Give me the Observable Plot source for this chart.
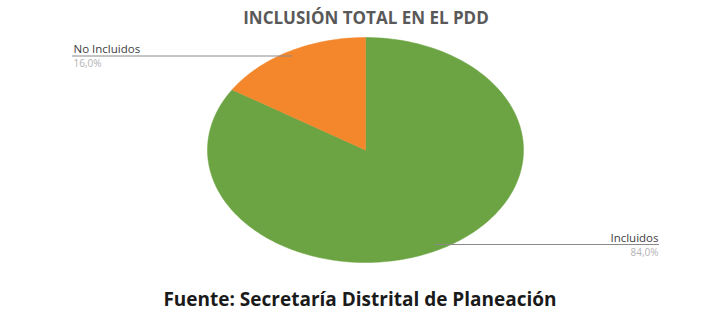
<!DOCTYPE html>
<html>
<head>
<meta charset="utf-8">
<script src="https://cdn.jsdelivr.net/npm/d3@7"></script>
<script src="https://cdn.jsdelivr.net/npm/@observablehq/plot@0.6"></script>
<style>
  html, body { margin: 0; padding: 0; background: #fff; }
  body { width: 714px; height: 317px; overflow: hidden; font-family: "Open Sans", sans-serif; }
  #title { height: 30px; position: relative; }
  #title span { position: absolute; left: 0; width: 732px; text-align: center; top: 6px;
    font: bold 17px "Open Sans", sans-serif; color: #595959; }
  #chart { height: 257px; }
  #chart svg { display: block; }
  #footer { height: 30px; position: relative; }
  #footer span { position: absolute; left: 0; width: 720px; text-align: center; top: -1px;
    font: bold 19px "Open Sans", sans-serif; color: #1a1a1a; }
</style>
</head>
<body>
<div id="title"><span></span></div>
<div id="chart"></div>
<div id="footer"><span></span></div>
<script>
// ---- data ----
const title = "INCLUSIÓN TOTAL EN EL PDD";
const source = "Fuente: Secretaría Distrital de Planeación";
const categories = ["Incluidos", "No Incluidos"];
const shares = [84.0, 16.0];
const valueLabels = ["84,0%", "16,0%"];
const colors = ["#6ca443", "#f4862c"];

document.querySelector("#title span").textContent = title;
document.querySelector("#footer span").textContent = source;

// ---- layout ----
const W = 714, H = 257;
const pieCx = 365, pieRx = 158, pieTop = 7, pieBottom = 232;
const margins = {marginLeft: pieCx - pieRx, marginRight: W - (pieCx + pieRx), marginTop: pieTop, marginBottom: H - pieBottom};
const pieCy = (pieTop + pieBottom) / 2, pieRy = (pieBottom - pieTop) / 2;
const toX = px => (px - pieCx) / pieRx;           // pixel -> data helpers for annotations
const toY = py => (pieCy - py) / pieRy;

// ---- pie geometry (clockwise from 12 o'clock) ----
const arcs = d3.pie().sort(null).value(d => d)(shares);
const slices = arcs.map((a, i) => {
  const pts = [{x: 0, y: 0}];
  const n = Math.max(2, Math.ceil((a.endAngle - a.startAngle) / (Math.PI / 180)));
  for (let k = 0; k <= n; k++) {
    const t = a.startAngle + (a.endAngle - a.startAngle) * k / n;
    pts.push({x: Math.sin(t), y: Math.cos(t)});
  }
  pts.push({x: 0, y: 0});
  return {name: categories[i], pts, color: colors[i]};
});

// ---- annotation positions (pixels in svg) ----
const ann = [
  {name: categories[1], value: valueLabels[1], anchor: "start", tx: 73, nameY: 22.5, lineY: 25.5, valY: 36, x1: 72, x2: 292},
  {name: categories[0], value: valueLabels[0], anchor: "end", tx: 658, nameY: 211, lineY: 214, valY: 225, x1: 435, x2: 659}
];

const marks = [];
for (const s of slices) {
  marks.push(Plot.line(s.pts, {x: "x", y: "y", fill: s.color, stroke: s.color, strokeWidth: 0.5, curve: "linear"}));
}
for (const a of ann) {
  marks.push(Plot.ruleY([toY(a.lineY)], {x1: toX(a.x1), x2: toX(a.x2), stroke: "#8a8a8a", strokeWidth: 1}));
  marks.push(Plot.text([a.name], {x: toX(a.tx), y: toY(a.nameY), text: d => d, textAnchor: a.anchor, lineAnchor: "bottom",
    fill: "#404040", fontSize: 11.5, fontFamily: "Open Sans, sans-serif"}));
  marks.push(Plot.text([a.value], {x: toX(a.tx), y: toY(a.valY), text: d => d, textAnchor: a.anchor, lineAnchor: "bottom",
    fill: "#b3b3b3", fontSize: 10, fontFamily: "Open Sans, sans-serif"}));
}

const plot = Plot.plot({
  width: W, height: H, ...margins,
  x: {domain: [-1, 1], axis: null},
  y: {domain: [-1, 1], axis: null},
  style: {background: "transparent", overflow: "visible"},
  marks
});
document.getElementById("chart").append(plot);
</script>
</body>
</html>
